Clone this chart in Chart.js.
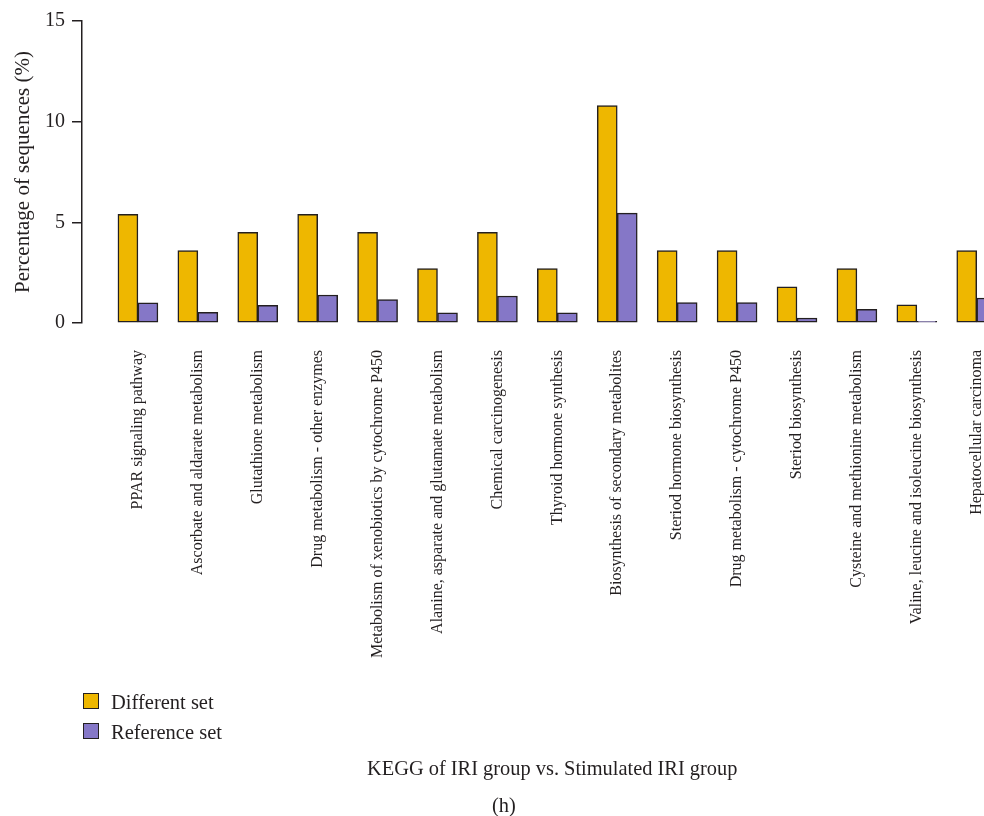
<!DOCTYPE html>
<html>
<head>
<meta charset="utf-8">
<script src="https://cdn.jsdelivr.net/npm/chart.js@4/dist/chart.umd.min.js"></script>
<style>
html,body{margin:0;padding:0;background:#fff;overflow:hidden;width:984px;height:816px;}
#wrap{position:absolute;left:0;top:0;width:1023px;height:816px;}
.t{position:absolute;font-family:"Liberation Serif","DejaVu Serif",serif;color:#231f20;white-space:nowrap;line-height:1;}
.box{position:absolute;width:14px;height:14px;border:1.5px solid #231f20;}
</style>
</head>
<body>
<div id="wrap"><canvas id="c" width="1023" height="816"></canvas></div>
<div id="legend"></div>
<div class="t" id="cap1" style="left:367px;top:758px;font-size:20.4px;">KEGG of IRI group vs. Stimulated IRI group</div>
<div class="t" id="cap2" style="left:492px;top:795px;font-size:20.4px;">(h)</div>
<script>
const categories = [
  "PPAR signaling pathway",
  "Ascorbate and aldarate metabolism",
  "Glutathione metabolism",
  "Drug metabolism - other enzymes",
  "Metabolism of xenobiotics by cytochrome P450",
  "Alanine, asparate and glutamate metabolism",
  "Chemical carcinogenesis",
  "Thyroid hormone synthesis",
  "Biosynthesis of secondary metabolites",
  "Steriod hormone biosynthesis",
  "Drug metabolism - cytochrome P450",
  "Steriod biosynthesis",
  "Cysteine and methionine metabolism",
  "Valine, leucine and isoleucine biosynthesis",
  "Hepatocellular carcinoma"
];
const differentSet = [5.4, 3.6, 4.5, 5.4, 4.5, 2.7, 4.5, 2.7, 10.8, 3.6, 3.6, 1.8, 2.7, 0.9, 3.6];
const referenceSet = [1.0, 0.53, 0.88, 1.39, 1.16, 0.5, 1.34, 0.5, 5.46, 1.01, 1.01, 0.25, 0.68, 0.08, 1.24];
const seriesNames = ["Different set", "Reference set"];
const yTicks = [0, 5, 10, 15];

const FONT = '"Liberation Serif", "DejaVu Serif", serif';
const INK = '#231f20';
const COLORS = ['#eeb700', '#8577c7'];
const GAP = 26 / 60;

const chart = new Chart(document.getElementById('c'), {
  type: 'bar',
  data: {
    labels: categories,
    datasets: [
      { label: seriesNames[0], data: differentSet, backgroundColor: COLORS[0] },
      { label: seriesNames[1], data: referenceSet, backgroundColor: COLORS[1] }
    ]
  },
  options: {
    responsive: false,
    animation: false,
    layout: { padding: { top: 21, right: 2, left: 0, bottom: 0 } },
    datasets: {
      bar: { barThickness: 20, borderColor: INK, borderWidth: 1.5, borderSkipped: false }
    },
    plugins: { legend: { display: false }, tooltip: { enabled: false } },
    scales: {
      x: {
        offset: true,
        grid: { display: false, drawTicks: false },
        border: { display: false },
        ticks: {
          autoSkip: false, maxRotation: 90, minRotation: 90, padding: 27,
          color: INK, font: { family: FONT, size: 16 }
        },
        afterBuildTicks: s => { s._startValue -= GAP; s._valueRange += GAP; },
        afterFit: s => { s.height = 816 - 323; }
      },
      y: {
        min: 0, max: 15,
        afterBuildTicks: s => { s.ticks = yTicks.map(v => ({ value: v })); },
        afterFit: s => { s.width = 82; },
        grid: { drawOnChartArea: false, drawTicks: true, tickLength: 10, color: INK, lineWidth: 1.5 },
        border: { display: true, color: INK, width: 1.5 },
        ticks: { padding: 7, color: INK, font: { family: FONT, size: 20 } },
        title: {
          display: true, text: 'Percentage of sequences (%)', color: INK,
          font: { family: FONT, size: 21 }, padding: { top: 11, bottom: 0 }
        }
      }
    }
  }
});

const leg = document.getElementById('legend');
chart.data.datasets.forEach((ds, i) => {
  const top = 693 + i * 30;
  const b = document.createElement('div');
  b.className = 'box';
  b.style.left = '83px'; b.style.top = top + 'px';
  b.style.background = ds.backgroundColor;
  leg.appendChild(b);
  const t = document.createElement('div');
  t.className = 't';
  t.style.left = '111px'; t.style.top = (top - 1) + 'px'; t.style.fontSize = '20.5px';
  t.textContent = ds.label;
  leg.appendChild(t);
});
</script>
</body>
</html>
